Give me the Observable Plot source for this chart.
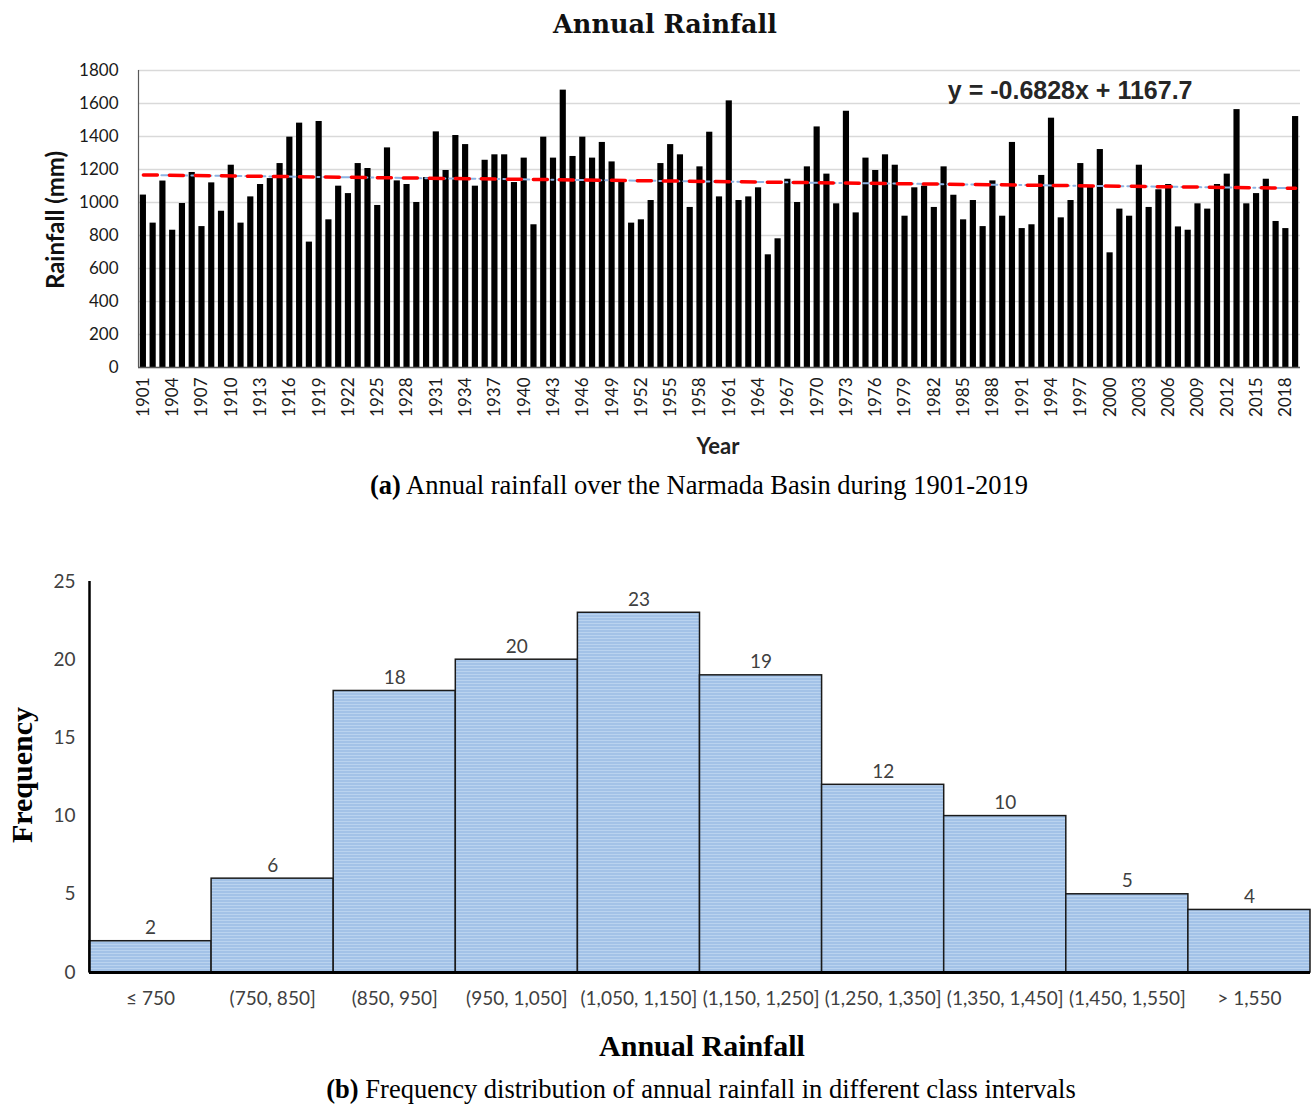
<!DOCTYPE html>
<html><head><meta charset="utf-8">
<script src="https://cdn.jsdelivr.net/npm/d3@7"></script>
<script src="https://cdn.jsdelivr.net/npm/@observablehq/plot@0.6"></script>
<style>
html,body{margin:0;padding:0;background:#fff;}
#page{position:relative;width:1312px;height:1105px;overflow:hidden;background:#fff;}
.t{position:absolute;white-space:nowrap;line-height:1;}
.c{position:absolute;left:0;}
</style></head><body><div id="page">
<div class="c" id="c1" style="top:50px"></div>
<div class="c" id="c2" style="top:560px"></div>
<div class="t" style="left:665px;top:12px;transform:translateX(-50%);font-family:'DejaVu Serif';font-weight:bold;font-size:25.5px;color:#111;">Annual Rainfall</div>
<div class="t" style="left:55px;top:220px;transform:translate(-50%,-50%) rotate(-90deg);font-family:Lato;font-weight:bold;font-size:24px;color:#111;">Rainfall (mm)</div>
<div class="t" style="left:718px;top:435px;transform:translateX(-50%);font-family:Lato;font-weight:bold;font-size:22px;color:#222;">Year</div>
<div class="t" style="left:699px;top:472px;transform:translateX(-50%);font-family:'Liberation Serif';font-size:26.5px;color:#000;"><b>(a)</b> Annual rainfall over the Narmada Basin during 1901-2019</div>
<div class="t" style="left:22px;top:775px;transform:translate(-50%,-50%) rotate(-90deg);font-family:'Liberation Serif';font-weight:bold;font-size:30px;color:#000;">Frequency</div>
<div class="t" style="left:702px;top:1031px;transform:translateX(-50%);font-family:'Liberation Serif';font-weight:bold;font-size:30px;color:#000;">Annual Rainfall</div>
<div class="t" style="left:701px;top:1076px;transform:translateX(-50%);font-family:'Liberation Serif';font-size:26.5px;color:#000;"><b>(b)</b> Frequency distribution of annual rainfall in different class intervals</div>
</div>
<script>
// ---- Data: annual rainfall (mm), 1901-2019 ----
const years = d3.range(1901, 2020);
const rainfall = [
  1045, 875, 1130, 832, 994, 1182, 854, 1119, 947, 1226,
  875, 1034, 1109, 1145, 1236, 1396, 1481, 760, 1491, 895,
  1099, 1054, 1236, 1206, 982, 1331, 1131, 1109, 1000, 1151,
  1428, 1194, 1406, 1351, 1099, 1256, 1289, 1289, 1121, 1269,
  865, 1396, 1269, 1681, 1279, 1396, 1269, 1364, 1246, 1129,
  875, 895, 1012, 1236, 1351, 1289, 970, 1216, 1426, 1034,
  1616, 1012, 1034, 1089, 683, 780, 1141, 1000, 1216, 1458,
  1172, 992, 1553, 937, 1269, 1194, 1289, 1226, 917, 1089,
  1099, 970, 1216, 1044, 895, 1012, 854, 1131, 917, 1364,
  842, 865, 1164, 1511, 907, 1012, 1236, 1100, 1321, 695,
  960, 917, 1226, 970, 1077, 1109, 852, 832, 992, 960,
  1109, 1172, 1563, 992, 1054, 1141, 885, 842, 1521
];
const rainTicks = [0, 200, 400, 600, 800, 1000, 1200, 1400, 1600, 1800];
const yearTicks = d3.range(1901, 2020, 3);
const trendSlope = -0.6828;
const trendIntercept = 1167.7;
const trendEquation = "y = -0.6828x + 1167.7";

// ---- Data: frequency distribution ----
const classLabels = ["≤ 750", "(750, 850]", "(850, 950]", "(950, 1,050]", "(1,050, 1,150]",
  "(1,150, 1,250]", "(1,250, 1,350]", "(1,350, 1,450]", "(1,450, 1,550]", "> 1,550"];
const frequency = [2, 6, 18, 20, 23, 19, 12, 10, 5, 4];
const freqTicks = [0, 5, 10, 15, 20, 25];

// ---- Chart (a) ----
const annual = years.map((year, i) => ({year, value: rainfall[i]}));
const n = years.length;
const trend = [
  {year: years[0], value: trendIntercept + trendSlope * 1},
  {year: years[n - 1], value: trendIntercept + trendSlope * n}
];

const chart1 = Plot.plot({
  width: 1312, height: 415,
  marginLeft: 138, marginRight: 12, marginTop: 20, marginBottom: 98,
  x: {domain: [years[0], years[n - 1] + 1], label: null},
  y: {domain: [0, 1800], label: null},
  style: {fontFamily: "Lato", fontSize: "17px", color: "#1a1a1a", background: "transparent"},
  marks: [
    Plot.gridY(rainTicks, {stroke: "#d9d9d9", strokeOpacity: 1, strokeWidth: 1.3}),
    Plot.rectY(annual, {x1: "year", x2: d => d.year + 1, y: "value", fill: "#000", insetLeft: 1.8, insetRight: 1.8}),
    Plot.ruleY([0], {stroke: "#595959", strokeWidth: 1.3}),
    Plot.ruleX([years[0]], {stroke: "#595959", strokeWidth: 1.2}),
    Plot.line(trend, {x: d => d.year + 0.5, y: "value", stroke: "#8db3e2", strokeWidth: 2, strokeDasharray: "8,4,2,4"}),
    Plot.line(trend, {x: d => d.year + 0.5, y: "value", stroke: "#ff0000", strokeWidth: 3.5, strokeDasharray: "14,12"}),
    Plot.text([trendEquation], {text: d => d, frameAnchor: "top-right", textAnchor: "end", lineAnchor: "middle",
      dx: -108, dy: 20, fontFamily: "Liberation Sans", fontWeight: "bold", fontSize: 25, fill: "#262626"}),
    Plot.axisY(rainTicks, {tickSize: 0, tickPadding: 20, fontSize: 17, tickFormat: d => String(d), label: null}),
    Plot.axisX(yearTicks.map(y => y + 0.5), {tickSize: 0, tickPadding: 10, tickRotate: -90,
      tickFormat: v => String(Math.round(v - 0.5)), fontSize: 17, label: null})
  ]
});
document.getElementById("c1").appendChild(chart1);

// ---- Chart (b) ----
const bins = classLabels.map((label, i) => ({label, i, count: frequency[i]}));
const chart2 = Plot.plot({
  width: 1312, height: 460,
  marginLeft: 89, marginRight: 2, marginTop: 21, marginBottom: 48,
  x: {domain: [0, classLabels.length], label: null},
  y: {domain: [0, 25], label: null},
  style: {fontFamily: "Lato", fontSize: "19px", color: "#404040", background: "transparent"},
  marks: [
    Plot.rectY(bins, {x1: "i", x2: d => d.i + 1, y: "count", fill: "url(#stripes)", stroke: "#1a1a1a", strokeWidth: 1.5}),
    Plot.text(bins, {x: d => d.i + 0.5, y: "count", text: d => String(d.count), dy: -13, fill: "#404040", fontSize: 19}),
    Plot.ruleY([0], {stroke: "#000", strokeWidth: 3}),
    Plot.ruleX([0], {stroke: "#000", strokeWidth: 2.5}),
    Plot.axisY(freqTicks, {tickSize: 0, tickPadding: 14, fontSize: 19, label: null}),
    Plot.axisX(classLabels.map((_, i) => i + 0.5), {tickSize: 0, tickPadding: 19,
      tickFormat: v => classLabels[Math.floor(v)], fontSize: 19, label: null})
  ]
});
const defs = d3.select(chart2).insert("defs", ":first-child");
const pat = defs.append("pattern").attr("id", "stripes").attr("patternUnits", "userSpaceOnUse").attr("width", 8).attr("height", 3);
pat.append("rect").attr("width", 8).attr("height", 3).attr("fill", "#a3c2e7");
pat.append("rect").attr("width", 8).attr("height", 1).attr("fill", "#bad3ef");
document.getElementById("c2").appendChild(chart2);
</script>
</body></html>
